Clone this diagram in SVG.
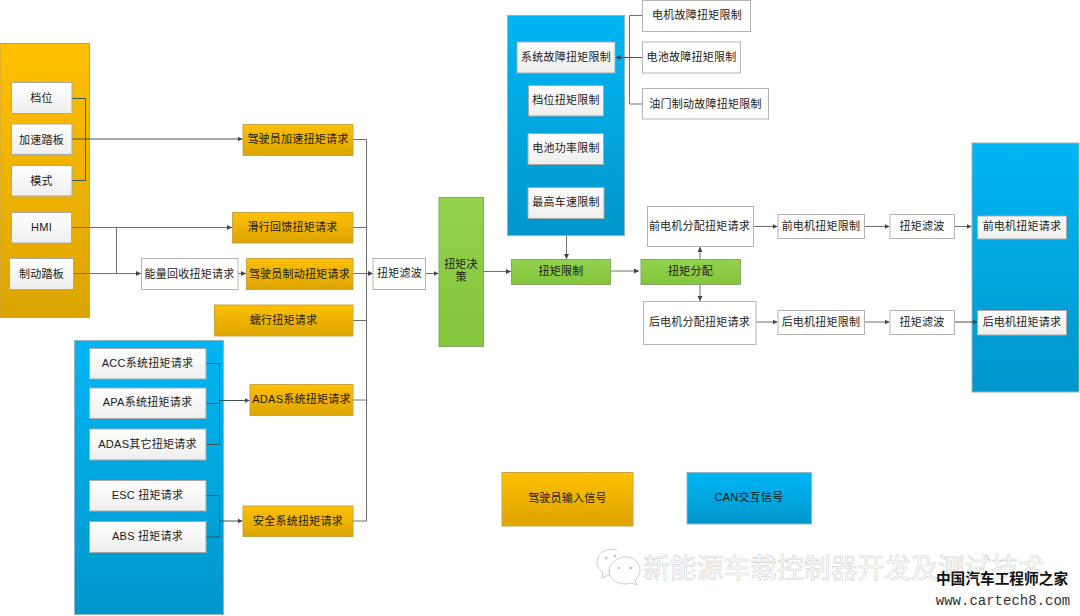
<svg xmlns="http://www.w3.org/2000/svg" width="1080" height="616" viewBox="0 0 1080 616">
<style>
text{font-family:"Liberation Sans","Noto Sans CJK SC",sans-serif;font-size:11px;fill:#1a1a1a;text-anchor:middle;letter-spacing:.25px}
.o{fill:url(#go);stroke:#c9a548;stroke-width:1}
.b{fill:url(#gb);stroke:#8fb4c6;stroke-width:1}
.g{fill:url(#gg);stroke:#8aa56a;stroke-width:1}
.w{fill:url(#gw);stroke:#a9a9a9;stroke-width:1}
.p{fill:#fff;stroke:#b4b4b4;stroke-width:1}
.c{fill:none;stroke:#707070;stroke-width:1}
.d{stroke:#3d5560}
.a{marker-end:url(#ar)}
.wm{font-size:26.8px;fill:#fff;stroke:#cdcdcd;stroke-width:.55;letter-spacing:0;font-family:"Noto Sans CJK SC",sans-serif}
.wi{fill:#fff;stroke:#cdcdcd;stroke-width:1}
.we{fill:#c4c4c4}
</style>
<defs>
<linearGradient id="go" x1="0" y1="0" x2="0" y2="1"><stop offset="0" stop-color="#ffc000"/><stop offset="1" stop-color="#dca400"/></linearGradient>
<linearGradient id="gb" x1="0" y1="0" x2="0" y2="1"><stop offset="0" stop-color="#00b6f4"/><stop offset="1" stop-color="#0097cb"/></linearGradient>
<linearGradient id="gg" x1="0" y1="0" x2="0" y2="1"><stop offset="0" stop-color="#92d24e"/><stop offset="1" stop-color="#84c63c"/></linearGradient>
<linearGradient id="gw" x1="0" y1="0" x2="0" y2="1"><stop offset="0" stop-color="#fff"/><stop offset="1" stop-color="#eee"/></linearGradient>
<marker id="ar" markerUnits="userSpaceOnUse" markerWidth="6" markerHeight="6" refX="5" refY="3" orient="auto"><path d="M0 .5L5 3L0 5.500Z" fill="#444"/></marker>
</defs>

<g id="panel-left"><rect class="o" x="0" y="43.500" width="89.500" height="274"/></g>
<g id="panel-adas"><rect class="b" x="74.500" y="340.500" width="149" height="274"/></g>
<g id="panel-limit"><rect class="b" x="507.500" y="15.500" width="117" height="220"/></g>
<g id="panel-out"><rect class="b" x="972" y="143" width="107" height="249"/></g>

<g id="connectors">
<path class="c d" d="M72 98.500H85.500V180.500H72"/>
<path class="c d a" d="M72 139H242.500"/>
<path class="c" d="M71.500 227.500H116.500V273.500"/>
<path class="c a" d="M71.500 227.500H232"/>
<path class="c a" d="M73 273.500H141"/>
<path class="c a" d="M238 273.500H246"/>
<path class="c" d="M353 139.500H366.500V521H353"/>
<path class="c" d="M353 227.500H366.500M353 320.500H366.500M353 400H366.500"/>
<path class="c a" d="M353 273.500H373"/>
<path class="c a" d="M425.500 273.500H438.500"/>
<path class="c a" d="M483.500 271.500H511"/>
<path class="c a" d="M566.500 235.500V259"/>
<path class="c a" d="M610.500 271H639"/>
<path class="c a" d="M700 259.500V247"/>
<path class="c a" d="M700 284.500V301"/>
<path class="c" d="M642.500 15.500H629.500V104H642.500"/>
<path class="c d a" d="M642.500 57.500H615.500"/>
<path class="c d" d="M206 363.500H219.500V444.500H206M206 403.500H219.500"/>
<path class="c d a" d="M219.500 400.500H249.500"/>
<path class="c d" d="M206 495.500H219.500V537H206"/>
<path class="c d a" d="M219.500 521H242.500"/>
<path class="c a" d="M753.500 226.500H777.500"/>
<path class="c a" d="M864.500 226.500H889.500"/>
<path class="c a" d="M954.500 226.500H971.500"/>
<path class="c a" d="M756 322H777.500"/>
<path class="c a" d="M864.500 322H889.500"/>
<path class="c d a" d="M954.500 322H977.500"/>
</g>

<g id="n-dangwei"><rect class="w" x="11.500" y="82.500" width="60.500" height="31"/><text x="41.500" y="102">档位</text></g>
<g id="n-jiasu"><rect class="w" x="11.500" y="124" width="60.500" height="30.500"/><text x="41.500" y="143.500">加速踏板</text></g>
<g id="n-moshi"><rect class="w" x="11.500" y="165.500" width="60.500" height="30.500"/><text x="41.500" y="184.500">模式</text></g>
<g id="n-hmi"><rect class="w" x="11.500" y="212.500" width="60" height="30.500"/><text x="41.500" y="231">HMI</text></g>
<g id="n-zhidong"><rect class="w" x="9.500" y="258.500" width="64" height="31"/><text x="41.500" y="277.500">制动踏板</text></g>

<g id="n-d-accel"><rect class="o" x="243" y="124.500" width="110" height="31"/><text x="298" y="143">驾驶员加速扭矩请求</text></g>
<g id="n-coast"><rect class="o" x="232.500" y="212.500" width="120.500" height="30.500"/><text x="292.500" y="231">滑行回馈扭矩请求</text></g>
<g id="n-regen"><rect class="p" x="141.500" y="258.500" width="96.500" height="31"/><text x="189.500" y="277.500">能量回收扭矩请求</text></g>
<g id="n-d-brake"><rect class="o" x="246.500" y="258.500" width="106.500" height="31"/><text x="299.500" y="277.500">驾驶员制动扭矩请求</text></g>
<g id="n-creep"><rect class="o" x="214.500" y="305" width="138.500" height="31"/><text x="283.500" y="323.500">蠕行扭矩请求</text></g>
<g id="n-adas"><rect class="o" x="250" y="384.500" width="103" height="31"/><text x="301.500" y="403">ADAS系统扭矩请求</text></g>
<g id="n-safety"><rect class="o" x="243" y="506" width="110" height="30.500"/><text x="298" y="524.500">安全系统扭矩请求</text></g>

<g id="n-acc"><rect class="w" x="89.500" y="348.500" width="116.500" height="30.500"/><text x="147.500" y="366.500">ACC系统扭矩请求</text></g>
<g id="n-apa"><rect class="w" x="89.500" y="388" width="116.500" height="30.500"/><text x="147.500" y="406">APA系统扭矩请求</text></g>
<g id="n-adas-o"><rect class="w" x="89.500" y="429" width="116.500" height="31"/><text x="147.500" y="447.500">ADAS其它扭矩请求</text></g>
<g id="n-esc"><rect class="w" x="89.500" y="480.500" width="116.500" height="30.500"/><text x="147.500" y="498.500">ESC 扭矩请求</text></g>
<g id="n-abs"><rect class="w" x="89.500" y="521.500" width="116.500" height="31"/><text x="147.500" y="540">ABS 扭矩请求</text></g>

<g id="n-filter"><rect class="p" x="373" y="258.500" width="52.500" height="31"/><text x="399.500" y="277">扭矩滤波</text></g>
<g id="n-decide"><rect class="g" x="439" y="197.500" width="44.500" height="149"/><text x="461" y="268">扭矩决</text><text x="461" y="281">策</text></g>
<g id="n-limit"><rect class="g" x="511.500" y="259.500" width="99" height="25"/><text x="561" y="275">扭矩限制</text></g>
<g id="n-split"><rect class="g" x="641" y="259.500" width="99.500" height="25"/><text x="690.500" y="275">扭矩分配</text></g>

<g id="n-sys"><rect class="w" x="517" y="42" width="98" height="31"/><text x="566" y="60.500">系统故障扭矩限制</text></g>
<g id="n-gear"><rect class="w" x="528.500" y="85.500" width="75" height="30.500"/><text x="566" y="103.500">档位扭矩限制</text></g>
<g id="n-batp"><rect class="w" x="528" y="133.500" width="75.500" height="31"/><text x="566" y="152">电池功率限制</text></g>
<g id="n-vmax"><rect class="w" x="528" y="187.500" width="76" height="31"/><text x="566" y="205.500">最高车速限制</text></g>

<g id="n-motorf"><rect class="p" x="642.500" y=".5" width="108" height="31"/><text x="697" y="18.500">电机故障扭矩限制</text></g>
<g id="n-batf"><rect class="p" x="642.500" y="42" width="98" height="31"/><text x="691.500" y="60.500">电池故障扭矩限制</text></g>
<g id="n-pedalf"><rect class="p" x="642.500" y="88.500" width="126" height="30.500"/><text x="705.500" y="107.500">油门制动故障扭矩限制</text></g>

<g id="n-fsplit"><rect class="p" x="647.500" y="206.500" width="106" height="40"/><text x="699.500" y="229.500">前电机分配扭矩请求</text></g>
<g id="n-rsplit"><rect class="p" x="643.500" y="301.500" width="112.500" height="43"/><text x="699.500" y="325.500">后电机分配扭矩请求</text></g>
<g id="n-flim"><rect class="p" x="778" y="214.500" width="86.500" height="24"/><text x="821" y="230">前电机扭矩限制</text></g>
<g id="n-rlim"><rect class="p" x="778" y="310.500" width="86.500" height="24"/><text x="821" y="326">后电机扭矩限制</text></g>
<g id="n-ffil"><rect class="p" x="890" y="214.500" width="64.500" height="24"/><text x="922" y="230">扭矩滤波</text></g>
<g id="n-rfil"><rect class="p" x="890" y="310.500" width="64.500" height="24"/><text x="922" y="326">扭矩滤波</text></g>
<g id="n-fout"><rect class="w" x="977.500" y="216" width="89" height="23"/><text x="1022" y="230">前电机扭矩请求</text></g>
<g id="n-rout"><rect class="w" x="977.500" y="310.500" width="89" height="24.500"/><text x="1022" y="326">后电机扭矩请求</text></g>

<g id="legend-driver"><rect class="o" x="502" y="472.500" width="131" height="53.500"/><text x="567.500" y="502">驾驶员输入信号</text></g>
<g id="legend-can"><rect class="b" x="687" y="472.500" width="124.500" height="51.500"/><text x="749" y="501">CAN交互信号</text></g>

<path class="wi" d="M617 550C606 547 597 554 597 562C597 567 600 570 603 573L602 578L608 575C610 576 612 576 614 576"/>
<path class="wi" d="M626 557C616 557 609 564 609 571C609 578 616 584 626 584C628 584 631 583 632 583L637 585L635 580C638 577 640 574 640 570C640 563 634 557 626 557Z"/>
<circle class="we" cx="606" cy="558" r="1.300"/><circle class="we" cx="615" cy="556" r="1.300"/><circle class="we" cx="619" cy="568" r="1.300"/><circle class="we" cx="631" cy="568" r="1.300"/>
<text class="wm" x="844" y="578">新能源车载控制器开发及测试技术</text>
<text x="1002" y="584" style="font-family:'Noto Sans CJK SC',sans-serif;font-size:14.700px;font-weight:700;fill:#111;letter-spacing:0">中国汽车工程师之家</text>
<text x="1003" y="605" style="font-family:'Liberation Mono',monospace;font-size:14px;fill:#333;letter-spacing:0">www.cartech8.com</text>
</svg>
